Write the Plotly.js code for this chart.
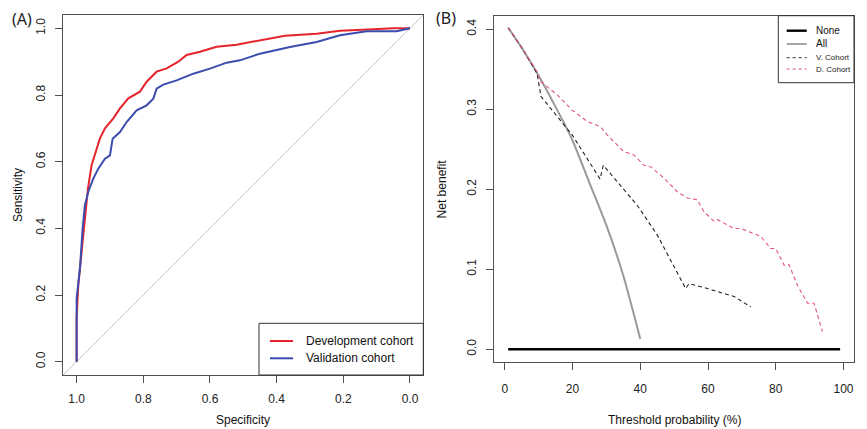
<!DOCTYPE html>
<html>
<head>
<meta charset="utf-8">
<script src="https://cdn.plot.ly/plotly-3.0.1.min.js"></script>
<style>html,body{margin:0;padding:0;background:#fff}#chart{width:867px;height:429px}</style>
</head>
<body>
<div id="chart"></div>
<script>
// ---------- Panel A: ROC curves (specificity, sensitivity) ----------
const devSpec = [1.0, 1.0, 0.995, 0.985, 0.98, 0.972, 0.966, 0.955, 0.945, 0.930, 0.915, 0.890, 0.870, 0.845, 0.810, 0.790, 0.760, 0.730, 0.695, 0.670, 0.630, 0.580, 0.520, 0.470, 0.375, 0.280, 0.210, 0.110, 0.050, 0.0];
const devSens = [0.0, 0.13, 0.23, 0.33, 0.40, 0.47, 0.52, 0.59, 0.62, 0.67, 0.70, 0.73, 0.76, 0.79, 0.81, 0.84, 0.87, 0.88, 0.90, 0.92, 0.93, 0.945, 0.951, 0.961, 0.978, 0.984, 0.993, 0.997, 1.0, 1.0];
const valSpec = [1.0, 1.0, 0.99, 0.982, 0.975, 0.965, 0.950, 0.935, 0.915, 0.900, 0.892, 0.870, 0.850, 0.820, 0.790, 0.770, 0.760, 0.740, 0.700, 0.650, 0.600, 0.550, 0.510, 0.450, 0.360, 0.280, 0.210, 0.130, 0.040, 0.0];
const valSens = [0.0, 0.19, 0.28, 0.40, 0.47, 0.51, 0.549, 0.579, 0.609, 0.619, 0.669, 0.689, 0.719, 0.754, 0.769, 0.789, 0.819, 0.831, 0.844, 0.864, 0.879, 0.897, 0.904, 0.924, 0.944, 0.959, 0.979, 0.991, 0.991, 1.0];
const rocTicks = [1.0, 0.8, 0.6, 0.4, 0.2, 0.0];
const rocTickText = ["1.0", "0.8", "0.6", "0.4", "0.2", "0.0"];
const sensTicks = [0.0, 0.2, 0.4, 0.6, 0.8, 1.0];
const sensTickText = ["0.0", "0.2", "0.4", "0.6", "0.8", "1.0"];

// ---------- Panel B: decision curves (threshold %, net benefit) ----------
const noneX = [1, 99];
const noneY = [0, 0];
const allX = [1, 5, 10, 15, 20, 25, 30, 35, 40];
const allY = [0.402, 0.377, 0.342, 0.303, 0.261, 0.208, 0.155, 0.092, 0.013];
const valX = [1, 5, 9.5, 10.7, 19.9, 26.3, 28.1, 29.1, 34.2, 39.1, 45.0, 50.0, 53.4, 54.4, 59.8, 67.7, 72.6];
const valY = [0.402, 0.377, 0.345, 0.316, 0.268, 0.226, 0.213, 0.230, 0.205, 0.180, 0.143, 0.103, 0.076, 0.082, 0.076, 0.066, 0.053];
const devX = [1, 5, 9.5, 10.5, 15.5, 17.4, 19.9, 24.3, 28.3, 30.2, 35.2, 38.1, 41.1, 43.1, 47.0, 50.9, 53.9, 56.8, 58.8, 61.8, 62.8, 67.7, 69.7, 75.6, 78.5, 80.0, 82.5, 83.9, 86.4, 89.4, 91.3, 93.8];
const devY = [0.402, 0.377, 0.347, 0.335, 0.318, 0.310, 0.299, 0.285, 0.278, 0.268, 0.247, 0.243, 0.230, 0.228, 0.214, 0.197, 0.189, 0.187, 0.172, 0.160, 0.162, 0.151, 0.151, 0.141, 0.126, 0.126, 0.105, 0.106, 0.080, 0.0575, 0.0575, 0.022];
const nbTicks = [0.0, 0.1, 0.2, 0.3, 0.4];
const nbTickText = ["0.0", "0.1", "0.2", "0.3", "0.4"];
const thTicks = [0, 20, 40, 60, 80, 100];

// ---------- layout helpers ----------
const W = 867, H = 429;
const PX = x => x / W;
const PY = y => 1 - y / H;
const FONT = "Liberation Sans, Arial, sans-serif";
const BOX = "#505050";
const RED = "#E5242C", BLUE = "#3A4DAE", GRAY = "#9a9a9a", PINK = "#E2577B";

const traces = [
  {x: devSpec, y: devSens, xaxis: "x", yaxis: "y", mode: "lines", name: "Development cohort",
   line: {color: RED, width: 2}},
  {x: valSpec, y: valSens, xaxis: "x", yaxis: "y", mode: "lines", name: "Validation cohort",
   line: {color: BLUE, width: 2}},
  {x: noneX, y: noneY, xaxis: "x2", yaxis: "y2", mode: "lines", name: "None",
   line: {color: "#000", width: 2.6}},
  {x: allX, y: allY, xaxis: "x2", yaxis: "y2", mode: "lines", name: "All",
   line: {color: GRAY, width: 2, shape: "spline", smoothing: 0.6}},
  {x: valX, y: valY, xaxis: "x2", yaxis: "y2", mode: "lines", name: "V. Cohort",
   line: {color: "#222", width: 1.1, dash: "4px,3px"}},
  {x: devX, y: devY, xaxis: "x2", yaxis: "y2", mode: "lines", name: "D. Cohort",
   line: {color: PINK, width: 1.1, dash: "4px,3px"}}
];

const axCommon = {
  showgrid: false, zeroline: false, showline: true, mirror: true, linecolor: BOX, linewidth: 1,
  ticks: "outside", ticklen: 7, tickcolor: BOX, tickwidth: 1,
  tickfont: {family: FONT, size: 12, color: "#222"}, automargin: false, fixedrange: true
};

const ann = (text, x, y, opts) => Object.assign({
  text: text, x: PX(x), y: PY(y), xref: "paper", yref: "paper", showarrow: false,
  xanchor: "center", yanchor: "middle", font: {family: FONT, size: 12, color: "#111"}
}, opts || {});

const legLine = (x0, x1, y, color, width, dash) => ({
  type: "line", xref: "paper", yref: "paper", x0: PX(x0), x1: PX(x1), y0: PY(y), y1: PY(y),
  line: {color: color, width: width, dash: dash || "solid"}
});

const layout = {
  width: W, height: H, margin: {l: 0, r: 0, t: 0, b: 0}, showlegend: false,
  paper_bgcolor: "#fff", plot_bgcolor: "#fff",
  xaxis: Object.assign({}, axCommon, {domain: [PX(63.3), PX(423.3)], range: [1.04, -0.04],
    tickvals: rocTicks, ticktext: rocTickText, ticklabelstandoff: 6, anchor: "y"}),
  yaxis: Object.assign({}, axCommon, {domain: [PY(375), PY(15)], range: [-0.04, 1.04],
    tickvals: sensTicks, ticktext: sensTickText, tickangle: -90, ticklabelstandoff: 6, anchor: "x"}),
  xaxis2: Object.assign({}, axCommon, {domain: [PX(494.3), PX(854)], range: [-3.1, 103.1],
    tickvals: thTicks, ticklabelstandoff: 9, anchor: "y2"}),
  yaxis2: Object.assign({}, axCommon, {domain: [PY(361.7), PY(15.7)], range: [-0.0155, 0.417],
    tickvals: nbTicks, ticktext: nbTickText, tickangle: -90, ticklabelstandoff: 6, anchor: "x2"}),
  shapes: [
    {type: "line", xref: "x domain", yref: "y domain", x0: 0, y0: 0, x1: 1, y1: 1, layer: "below",
     line: {color: "#c4c4c4", width: 1}},
    {type: "rect", xref: "paper", yref: "paper", x0: PX(259), x1: PX(423.3), y0: PY(375), y1: PY(323.3),
     line: {color: "#333", width: 1}, fillcolor: "rgba(0,0,0,0)"},
    legLine(270, 293, 341, RED, 2),
    legLine(270, 293, 358.3, BLUE, 2),
    {type: "rect", xref: "paper", yref: "paper", x0: PX(778.3), x1: PX(854), y0: PY(82.7), y1: PY(15.7),
     line: {color: "#333", width: 1}, fillcolor: "rgba(0,0,0,0)"},
    legLine(786.7, 806.7, 30.7, "#000", 2.4),
    legLine(786.7, 806.7, 44, GRAY, 1.8),
    legLine(786.7, 806.7, 57.7, "#333", 1, "3px,3px"),
    legLine(786.7, 806.7, 69, PINK, 1, "3px,3px")
  ],
  annotations: [
    ann("(A)", 22, 19, {font: {family: "Noto Sans, Open Sans, sans-serif", size: 16, color: "#222"}}),
    ann("(B)", 446, 18, {font: {family: "Noto Sans, Open Sans, sans-serif", size: 16, color: "#222"}}),
    ann("Sensitivity", 18, 195, {textangle: -90}),
    ann("Specificity", 243.3, 420),
    ann("Net benefit", 441.7, 188.7, {textangle: -90}),
    ann("Threshold probability (%)", 674.2, 420),
    ann("Development cohort", 304, 341, {xanchor: "left"}),
    ann("Validation cohort", 304, 358.3, {xanchor: "left"}),
    ann("None", 814, 30.7, {xanchor: "left", font: {family: FONT, size: 10, color: "#111"}}),
    ann("All", 814, 44, {xanchor: "left", font: {family: FONT, size: 10, color: "#111"}}),
    ann("V. Cohort", 814, 57.7, {xanchor: "left", font: {family: FONT, size: 8, color: "#222"}}),
    ann("D. Cohort", 814, 69, {xanchor: "left", font: {family: FONT, size: 8, color: "#222"}})
  ]
};

Plotly.newPlot("chart", traces, layout, {staticPlot: true, displayModeBar: false});
</script>
</body>
</html>
